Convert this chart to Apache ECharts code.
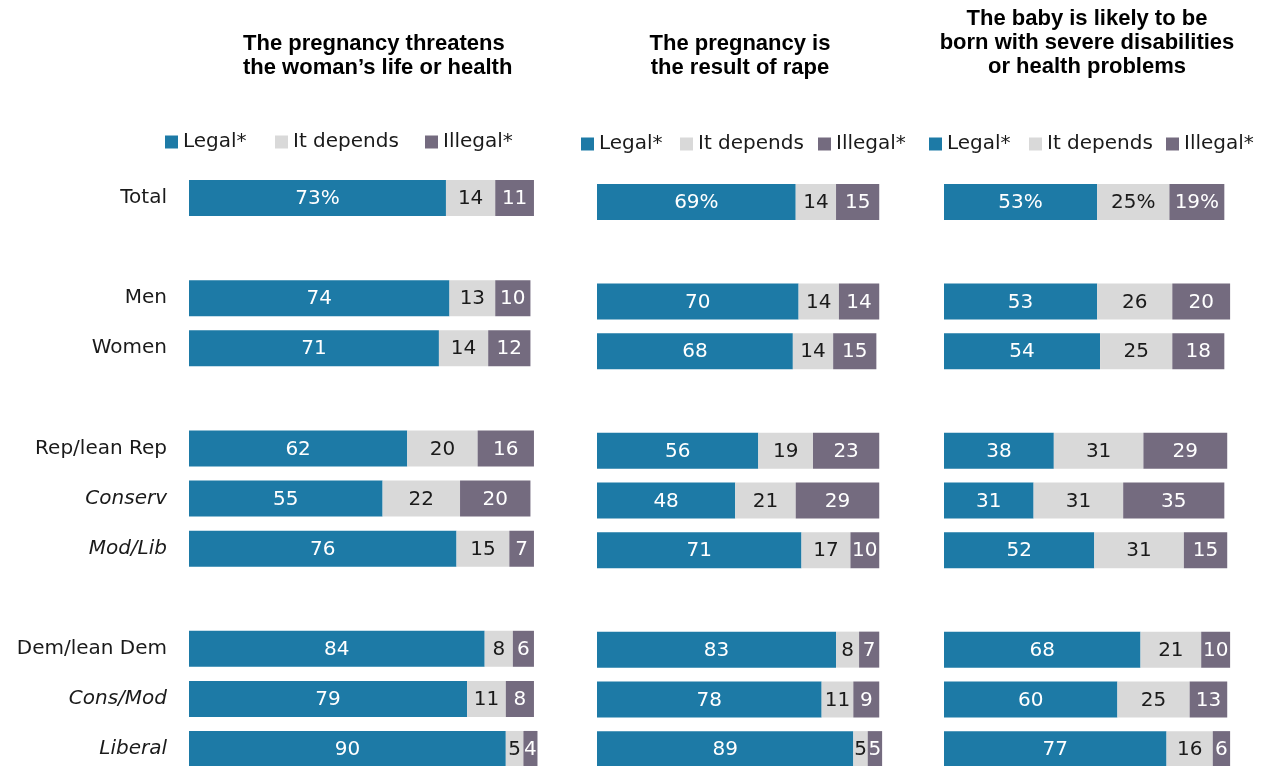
<!DOCTYPE html>
<html><head><meta charset="utf-8">
<script src="https://cdn.jsdelivr.net/npm/echarts@6/dist/echarts.min.js"></script>
<style>html,body{margin:0;padding:0;background:#fff}#c{width:1263px;height:766px}</style>
</head><body><div id="c"></div>
<script>
const rows = ['Total', '', 'Men', 'Women', '', 'Rep/lean Rep', 'Conserv', 'Mod/Lib', '', 'Dem/lean Dem', 'Cons/Mod', 'Liberal'];
const italicRows = ['Conserv', 'Mod/Lib', 'Cons/Mod', 'Liberal'];
const seriesNames = ['Legal*', 'It depends', 'Illegal*'];
const panelTitles = [
  'The pregnancy threatens\nthe woman\u2019s life or health',
  'The pregnancy is\nthe result of rape',
  'The baby is likely to be\nborn with severe disabilities\nor health problems'
];
// values for rows: Total, Men, Women, Rep, Conserv, Mod/Lib, Dem, Cons/Mod, Liberal
const lifeLegal   = [73, 74, 71, 62, 55, 76, 84, 79, 90];
const lifeDepends = [14, 13, 14, 20, 22, 15, 8, 11, 5];
const lifeIllegal = [11, 10, 12, 16, 20, 7, 6, 8, 4];
const rapeLegal   = [69, 70, 68, 56, 48, 71, 83, 78, 89];
const rapeDepends = [14, 14, 14, 19, 21, 17, 8, 11, 5];
const rapeIllegal = [15, 14, 15, 23, 29, 10, 7, 9, 5];
const disLegal    = [53, 53, 54, 38, 31, 52, 68, 60, 77];
const disDepends  = [25, 26, 25, 31, 31, 31, 21, 25, 16];
const disIllegal  = [19, 20, 18, 29, 35, 15, 10, 13, 6];
// whether the Total row label shows a percent sign (Legal, It depends, Illegal)
const lifeTotalPct = [true, false, false];
const rapeTotalPct = [true, false, false];
const disTotalPct  = [true, true, true];

const colors = ['#1d7aa6', '#d9d9d9', '#746b7f'];
const labelColors = ['#ffffff', '#1a1a1a', '#ffffff'];
const FONT = '"DejaVu Sans", sans-serif';
const TFONT = '"Liberation Sans", Arial, sans-serif';

function expand(vals) {
  const out = [];
  let k = 0;
  rows.forEach(r => { if (r === '') out.push('-'); else out.push(vals[k++]); });
  return out;
}

const panels = [
  {vals: [lifeLegal, lifeDepends, lifeIllegal], pct: lifeTotalPct, left: 189, width: 352, top: 173, height: 601},
  {vals: [rapeLegal, rapeDepends, rapeIllegal], pct: rapeTotalPct, left: 597, width: 288, top: 177, height: 597},
  {vals: [disLegal, disDepends, disIllegal], pct: disTotalPct, left: 944, width: 289, top: 177, height: 597}
];

const grid = [], xAxis = [], yAxis = [], series = [];
panels.forEach((p, i) => {
  grid.push({left: p.left, top: p.top, width: p.width, height: p.height, containLabel: false, outerBoundsMode: 'none'});
  xAxis.push({gridIndex: i, type: 'value', min: 0, max: 100, show: false});
  yAxis.push({
    gridIndex: i, type: 'category', data: rows, inverse: true,
    axisLine: {show: false}, axisTick: {show: false}, splitLine: {show: false},
    axisLabel: i === 0 ? {
      show: true, margin: 22, fontSize: 20, color: '#1a1a1a', fontFamily: FONT,
      formatter: v => italicRows.includes(v) ? '{it|' + v + '}' : v,
      rich: {it: {fontStyle: 'italic', fontSize: 20, color: '#1a1a1a', fontFamily: FONT}}
    } : {show: false}
  });
  p.vals.forEach((vals, s) => {
    series.push({
      name: seriesNames[s], type: 'bar', stack: 'p' + i,
      xAxisIndex: i, yAxisIndex: i, barWidth: 36,
      itemStyle: {color: colors[s]},
      data: expand(vals),
      label: {
        show: true, position: 'inside', fontSize: 20, color: labelColors[s], fontFamily: FONT,
        offset: [0, 1],
        formatter: prm => prm.dataIndex === 0 && p.pct[s] ? prm.value + '%' : String(prm.value)
      },
      emphasis: {disabled: true}
    });
  });
});

const legendX = [[165, 275, 425], [581, 680, 818], [929, 1029, 1166]];
const legendY = [132, 134, 134];
const legend = [];
legendX.forEach((xs, i) => {
  xs.forEach((x, s) => {
    legend.push({
      data: [seriesNames[s]], left: x, top: legendY[i], icon: 'rect', itemWidth: 13, itemHeight: 13,
      itemGap: 5, selectedMode: false, padding: 0,
      textStyle: {fontSize: 20, color: '#1a1a1a', fontFamily: FONT, padding: [0, 0, 0, 0]}
    });
  });
});

const titleX = [243, 740, 1087];
const titleAlign = ['left', 'center', 'center'];
const titleTop = [32, 32, 7];
const title = panelTitles.map((t, i) => ({
  text: t, left: titleX[i], top: titleTop[i], textAlign: titleAlign[i], padding: 0,
  textStyle: {fontSize: 22, fontWeight: 'bold', color: '#000', lineHeight: 24, fontFamily: TFONT}
}));

const chart = echarts.init(document.getElementById('c'), null, {renderer: 'canvas'});
chart.setOption({animation: false, title, legend, grid, xAxis, yAxis, series});
</script>
</body></html>
